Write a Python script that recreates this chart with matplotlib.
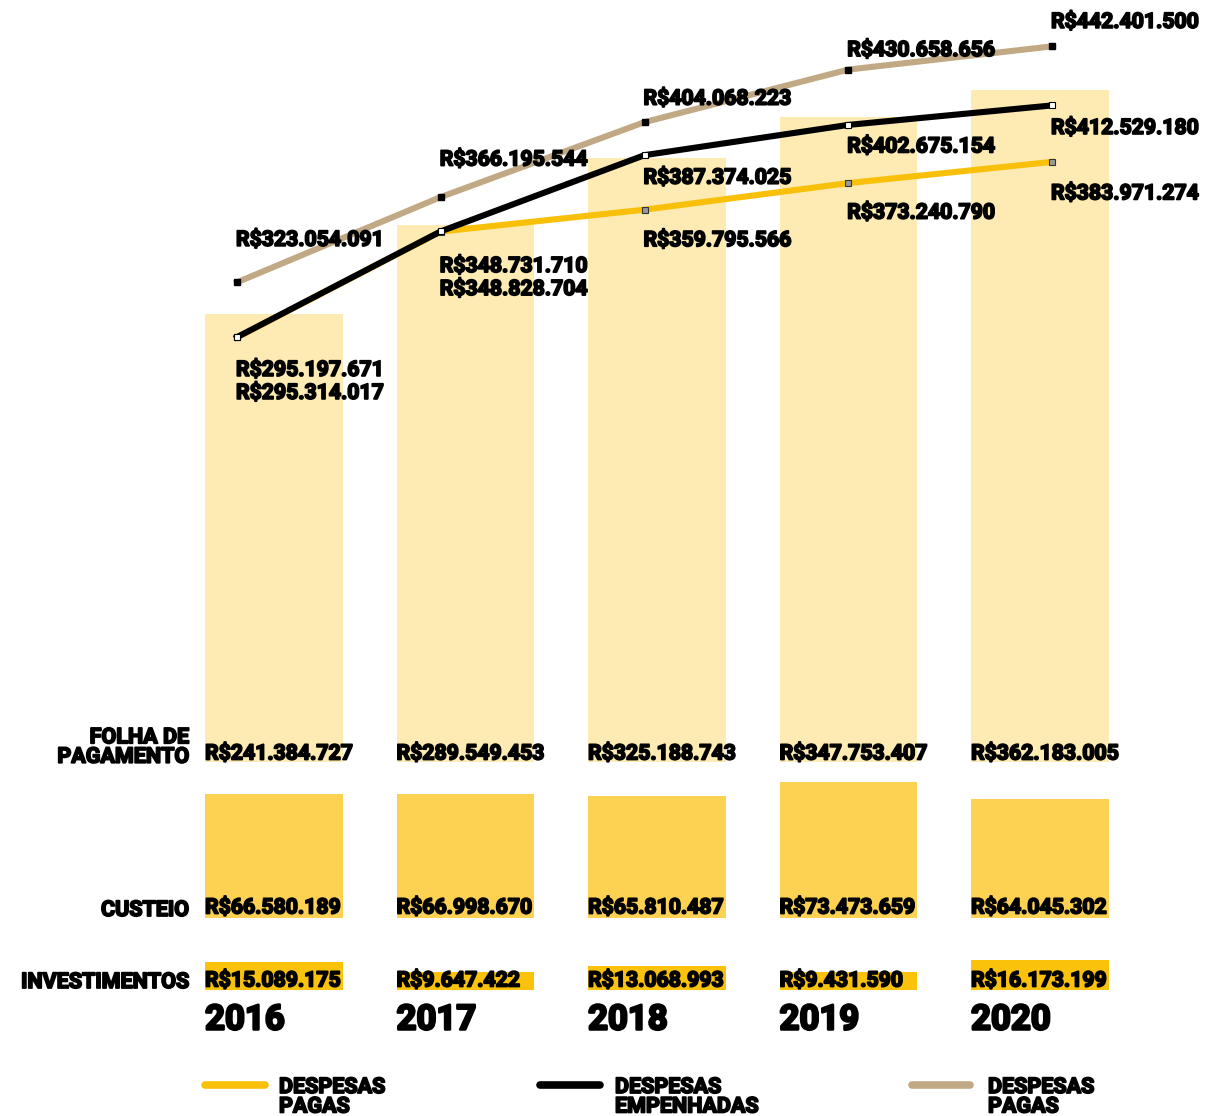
import matplotlib
matplotlib.use("Agg")
import matplotlib.pyplot as plt
from matplotlib.lines import Line2D
import matplotlib.patheffects as pe

# ---------------- data ----------------
years = ["2016", "2017", "2018", "2019", "2020"]
folha = [241384727, 289549453, 325188743, 347753407, 362183005]
custeio = [66580189, 66998670, 65810487, 73473659, 64045302]
investimentos = [15089175, 9647422, 13068993, 9431590, 16173199]
pagas = [295197671, 348731710, 359795566, 373240790, 383971274]
empenhadas = [295314017, 348828704, 387374025, 402675154, 412529180]
pagas_tan = [323054091, 366195544, 404068223, 430658656, 442401500]
row_labels = ["FOLHA DE\nPAGAMENTO", "CUSTEIO", "INVESTIMENTOS"]
legend_labels = ["DESPESAS\nPAGAS", "DESPESAS\nEMPENHADAS", "DESPESAS\nPAGAS"]

# ---------------- style ----------------
W, H = 1211, 1116
C_LIGHT = "#FDEBB3"
C_MID = "#FDD253"
C_DARK = "#FAC20A"
C_YEL = "#F9C00A"
C_TAN = "#C2A985"
C_BLK = "#000000"

HEAVY = [pe.withStroke(linewidth=1.3, foreground="black")]
VAL_FONT = dict(family=["Roboto", "DejaVu Sans"], fontweight="bold", fontsize=15.3,
                color="black", path_effects=HEAVY)
COND_FONT = dict(family=["Roboto", "DejaVu Sans"], fontweight="bold", fontsize=15.5,
                 color="black", path_effects=HEAVY)


def fy(py):
    return 1 - py / H


def fmt(v):
    return "R$" + f"{v:,}".replace(",", ".")


fig = plt.figure(figsize=(W / 100, H / 100), dpi=100)

scale = 1.856e-6     # px per real for the bars
bar_c0, bar_dx, bar_w = 274, 191.5, 0.72
xlim_b = ((0 - bar_c0) / bar_dx, (W - bar_c0) / bar_dx)
xs = list(range(len(years)))
row_x = (189 - bar_c0) / bar_dx


def bar_axes(bottom_px, height_px, values, color, label_off, row_label, row_off):
    ax = fig.add_axes([0, fy(bottom_px), 1, height_px / H])
    ax.set_xlim(*xlim_b)
    ax.set_ylim(0, height_px / scale)
    ax.bar(xs, values, width=bar_w, color=color, zorder=1)
    for i, v in enumerate(values):
        ax.annotate(fmt(v), (i - bar_w / 2, 0), xytext=(0, label_off),
                    textcoords="offset pixels", ha="left", va="center", zorder=5,
                    annotation_clip=False, **VAL_FONT)
    ax.annotate(row_label, (row_x, 0), xytext=(0, row_off), textcoords="offset pixels",
                ha="right", va="center", linespacing=0.85, annotation_clip=False, **COND_FONT)
    ax.axis("off")
    return ax


ax_top = bar_axes(762, 762, folha, C_LIGHT, 8, row_labels[0], 15)
ax_c = bar_axes(918, 150, custeio, C_MID, 10, row_labels[1], 8)
ax_i = bar_axes(990, 60, investimentos, C_DARK, 9, row_labels[2], 8)
for i, y in enumerate(years):
    ax_i.annotate(y, (i - bar_w / 2, 0), xytext=(0, -30), textcoords="offset pixels",
                  ha="left", va="center", annotation_clip=False,
                  family=["Roboto", "DejaVu Sans"], fontweight="bold", fontsize=25,
                  path_effects=[pe.withStroke(linewidth=1.8, foreground="black")])

# ---------------- lines ----------------
line_x0, line_dx = 237, 203.75
scale_l = 1.977e-6
zero_px = 921
axl = fig.add_axes([0, 0, 1, 1], facecolor="none")
axl.set_xlim((0 - line_x0) / line_dx, (W - line_x0) / line_dx)
axl.set_ylim(-(H - zero_px) / scale_l, zero_px / scale_l)
axl.axis("off")

lw = 4.4
axl.plot(xs, pagas_tan, color=C_TAN, lw=lw, marker="s", ms=5, mfc="black", mec="black", zorder=3)
axl.plot(xs, pagas, color=C_YEL, lw=lw, marker="s", ms=5, mfc="#9a9a9a", mec="#333333", mew=0.8, zorder=4)
axl.plot(xs, empenhadas, color=C_BLK, lw=lw, marker="s", ms=5, mfc="white", mec="black", mew=0.8, zorder=5)

tan_off = [42, 37, 23, 19, 24]
for i, v in enumerate(pagas_tan):
    axl.annotate(fmt(v), (i, v), xytext=(-1, tan_off[i]), textcoords="offset pixels",
                 ha="left", va="center", zorder=6, **VAL_FONT)
yel_off = [-33, -35, -31, -30, -32]
blk_off = [-56, -58, -23, -22, -23]
for i, v in enumerate(pagas):
    axl.annotate(fmt(v), (i, v), xytext=(-1, yel_off[i]), textcoords="offset pixels",
                 ha="left", va="center", zorder=6, **VAL_FONT)
for i, v in enumerate(empenhadas):
    ref = pagas[i] if i < 2 else v
    axl.annotate(fmt(v), (i, ref), xytext=(-1, blk_off[i]), textcoords="offset pixels",
                 ha="left", va="center", zorder=6, **VAL_FONT)

# ---------------- legend ----------------
leg = [(205, 265, 279, C_YEL), (540, 600, 615, C_BLK), (912, 970, 988, C_TAN)]
for (x0, x1, tx, col), lab in zip(leg, legend_labels):
    fig.add_artist(Line2D([x0 / W, x1 / W], [fy(1085), fy(1085)], color=col, lw=5.5,
                          solid_capstyle="round", transform=fig.transFigure))
    fig.text(tx / W, fy(1076), lab, ha="left", va="top", linespacing=0.85, **COND_FONT)

fig.savefig("out.png", dpi=100, facecolor="white")
